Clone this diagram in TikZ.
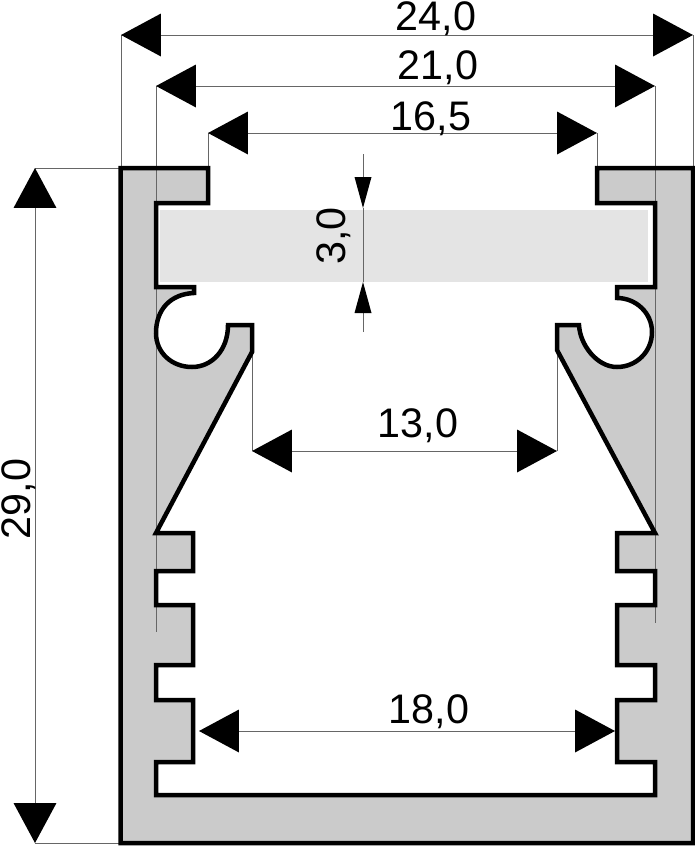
\documentclass[tikz,border=0pt]{standalone}
\usepackage{fontspec}
\setmainfont{Liberation Sans}
\usetikzlibrary{arrows.meta}
\definecolor{bodygrey}{HTML}{CBCBCB}
\definecolor{stripgrey}{HTML}{E4E4E4}
\definecolor{thingrey}{HTML}{666666}
\tikzset{
  outline/.style={draw=black,line width=0.09cm,line join=miter,miter limit=10},
  extline/.style={draw=thingrey,line width=0.02cm},
  dimline/.style={extline,{Triangle[black,line width=0pt,length=0.8cm,width=0.86cm]}-{Triangle[black,line width=0pt,length=0.8cm,width=0.86cm]}},
  smallline/.style={extline,-{Triangle[black,line width=0pt,length=0.62cm,width=0.34cm]}},
  dimlabel/.style={anchor=base,inner sep=0pt,font=\fontsize{23.5pt}{24pt}\selectfont}
}
\newcommand{\profilepath}{
  (120.5,168) -- (208,168) -- (208,203) -- (156,203) -- (156,287) -- (194,287) -- (194,293)
  .. controls (170,294) and (156,310) .. (156,333)
  .. controls (156,353) and (172,367) .. (192,367)
  .. controls (212,367) and (228,350) .. (228,325)
  -- (252,325) -- (252,352) -- (156,533) -- (193,533) -- (193,571) -- (156,571)
  -- (156,605) -- (193,605) -- (193,665) -- (156,665) -- (156,700) -- (193,700)
  -- (193,762) -- (156,762) -- (156,795) -- (655,795) -- (655,762) -- (617,762)
  -- (617,700) -- (655,700) -- (655,665) -- (617,665) -- (617,605) -- (655,605)
  -- (655,571) -- (617,571) -- (617,533) -- (655,533) -- (557,350) -- (557,325) -- (579,325)
  .. controls (580,345) and (597,367) .. (617,367)
  .. controls (636,367) and (652,352) .. (652,332)
  .. controls (652,313) and (636,298) .. (617,298)
  -- (617,287) -- (655,287) -- (655,203) -- (597,203) -- (597,168) -- (693,168)
  -- (693,843) -- (120.5,843) -- cycle
}
\begin{document}
\begin{tikzpicture}[x=0.02cm,y=-0.02cm]
      \useasboundingbox (0,0) rectangle (695,846);
      \fill[stripgrey] (160,210) rectangle (648,282);
      \fill[bodygrey] \profilepath;
      \draw
        (121,35) coordinate (a)
        (693,35) coordinate (b)
        (156,86) coordinate (c)
        (655,86) coordinate (d)
        (208,133) coordinate (e)
        (597,133) coordinate (f)
        (252,451) coordinate (g)
        (557,451) coordinate (h)
        (199,731) coordinate (i)
        (615,731) coordinate (j)
        (35,168) coordinate (k)
        (35,843) coordinate (l)
        (121,168) coordinate (a0)
        (693,168) coordinate (b0)
        (156,632) coordinate (c0)
        (655,623) coordinate (d0)
        (208,168) coordinate (e0)
        (597,168) coordinate (f0)
        (252,352) coordinate (g0)
        (557,350) coordinate (h0)
        (121,843) coordinate (l0)
        (363,154) coordinate (m)
        (363,208) coordinate (m0)
        (363,332) coordinate (n)
        (363,282) coordinate (n0);
      \begin{scope}[extline]
        \draw (a) to (a0);
        \draw (b) to (b0);
        \draw (c) to (c0);
        \draw (d) to (d0);
        \draw (e) to (e0);
        \draw (f) to (f0);
        \draw (g) to (g0);
        \draw (h) to (h0);
        \draw (k) to (a0);
        \draw (l) to (l0);
        \draw (m0) to (n0);
      \end{scope}
      \begin{scope}[dimline]
        \draw (a) to (b);
        \draw (c) to (d);
        \draw (e) to (f);
        \draw (g) to (h);
        \draw (i) to (j);
        \draw (k) to (l);
      \end{scope}
      \begin{scope}[smallline]
        \draw (m) to (m0);
        \draw (n) to (n0);
      \end{scope}
      \draw[outline] \profilepath;
      \draw
        (436,30) node[dimlabel] (w24){24,0}
        (438,79) node[dimlabel] (w21){21,0}
        (431,130) node[dimlabel] (w16){16,5}
        (418,437) node[dimlabel] (w13){13,0}
        (429,723) node[dimlabel] (w18){18,0}
        (31,499) node[dimlabel,rotate=90] (h29){29,0}
        (345,236) node[dimlabel,rotate=90] (h3){3,0};
    \end{tikzpicture}
\end{document}
